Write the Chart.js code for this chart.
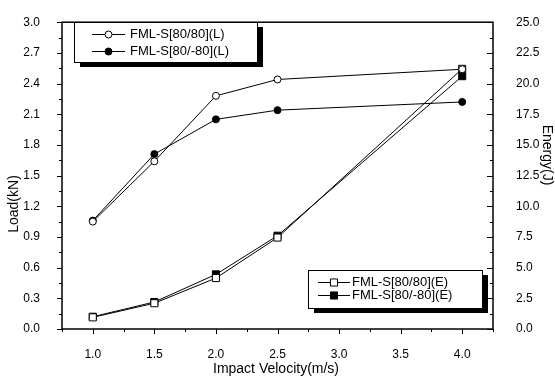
<!DOCTYPE html>
<html><head><meta charset="utf-8">
<script src="https://cdn.jsdelivr.net/npm/chart.js@4.4.1/dist/chart.umd.min.js"></script>
<style>html,body{margin:0;padding:0;background:#fff;overflow:hidden}#wrap{width:555px;height:380px;position:relative}</style>
</head><body><div id="wrap"><canvas id="c" width="555" height="380"></canvas></div>
<script>
// ---- data ----
const velocity = [1.0, 1.5, 2.0, 2.5, 4.0];
const load8080 = [1.05, 1.64, 2.28, 2.44, 2.54];
const load80m80 = [1.06, 1.71, 2.05, 2.14, 2.22];
const energy8080 = [0.95, 2.1, 4.15, 7.45, 21.2];
const energy80m80 = [1.0, 2.2, 4.45, 7.6, 20.6];
const xTickLabels = [1.0, 1.5, 2.0, 2.5, 3.0, 3.5, 4.0];
const loadTickLabels = [0.0, 0.3, 0.6, 0.9, 1.2, 1.5, 1.8, 2.1, 2.4, 2.7, 3.0];
const energyTickLabels = [0.0, 2.5, 5.0, 7.5, 10.0, 12.5, 15.0, 17.5, 20.0, 22.5, 25.0];
const seriesNames = ['FML-S[80/80](L)', 'FML-S[80/-80](L)', 'FML-S[80/80](E)', 'FML-S[80/-80](E)'];
const xTitle = 'Impact Velocity(m/s)';
const yTitle = 'Load(kN)';
const y1Title = 'Energy(J)';

const FONT = '"Liberation Sans", Arial, sans-serif';
const toPts = (ys) => velocity.map((x, i) => ({x, y: ys[i]}));

const datasets = [
  {label: seriesNames[0], data: toPts(load8080), yAxisID: 'y', pointStyle: 'circle', radius: 3.5, backgroundColor: '#fff'},
  {label: seriesNames[1], data: toPts(load80m80), yAxisID: 'y', pointStyle: 'circle', radius: 3.5, backgroundColor: '#000'},
  {label: seriesNames[2], data: toPts(energy8080), yAxisID: 'y1', pointStyle: 'rect', radius: 5, backgroundColor: '#fff'},
  {label: seriesNames[3], data: toPts(energy80m80), yAxisID: 'y1', pointStyle: 'rect', radius: 5, backgroundColor: '#000'}
].map(d => Object.assign(d, {borderColor: '#000', borderWidth: 1, pointBorderColor: '#000', pointBackgroundColor: d.backgroundColor, pointBorderWidth: 1, pointRadius: d.radius, tension: 0, fill: false}));

function ticksFrom(arr) { return s => { s.ticks = arr.map(v => ({value: v})); }; }

const decor = {
  id: 'decor',
  afterDatasetsDraw(chart) {
    const ctx = chart.ctx, a = chart.chartArea;
    const sx = chart.scales.x, sy = chart.scales.y, sy1 = chart.scales.y1;
    ctx.save();
    ctx.strokeStyle = '#000';
    ctx.lineWidth = 1.5;
    ctx.strokeRect(a.left, a.top, a.right - a.left, a.bottom - a.top);
    ctx.lineWidth = 1;
    ctx.beginPath();
    // left axis ticks (outward)
    for (let v = 0; v <= 3.0001; v += 0.15) {
      const p = Math.round(sy.getPixelForValue(v)) + 0.5;
      const major = Math.abs(v / 0.3 - Math.round(v / 0.3)) < 1e-6;
      ctx.moveTo(a.left, p); ctx.lineTo(a.left - (major ? 5 : 3), p);
    }
    // right axis ticks (inward)
    for (let v = 0; v <= 25.0001; v += 1.25) {
      const p = Math.round(sy1.getPixelForValue(v)) + 0.5;
      const major = Math.abs(v / 2.5 - Math.round(v / 2.5)) < 1e-6;
      ctx.moveTo(a.right, p); ctx.lineTo(a.right - (major ? 6 : 3), p);
    }
    // bottom ticks (outward)
    for (let v = 0.75; v <= 4.2501; v += 0.25) {
      const p = Math.round(sx.getPixelForValue(v)) + 0.5;
      const major = Math.abs(v / 0.5 - Math.round(v / 0.5)) < 1e-6;
      ctx.moveTo(p, a.bottom); ctx.lineTo(p, a.bottom + (major ? 5 : 3));
    }
    ctx.stroke();

    // axis titles
    ctx.fillStyle = '#000';
    ctx.textAlign = 'center'; ctx.textBaseline = 'middle';
    ctx.font = '14px ' + FONT;
    ctx.fillText(xTitle, 276, 369);
    ctx.save(); ctx.translate(14, 204); ctx.rotate(-Math.PI / 2); ctx.fillText(yTitle, 0, 0); ctx.restore();
    ctx.save(); ctx.translate(547, 155); ctx.rotate(Math.PI / 2); ctx.fillText(y1Title, 0, 0); ctx.restore();

    // legends with drop shadow
    function legendBox(box, rows, idx) {
      ctx.fillStyle = '#000';
      ctx.fillRect(box.x + 6, box.y + 5, box.w, box.h);
      ctx.fillStyle = '#fff';
      ctx.fillRect(box.x, box.y, box.w, box.h);
      ctx.lineWidth = 1; ctx.strokeStyle = '#000';
      ctx.strokeRect(box.x + 0.5, box.y + 0.5, box.w, box.h);
      idx.forEach((di, k) => {
        const ds = chart.data.datasets[di];
        const y = rows.y[k];
        ctx.strokeStyle = '#000'; ctx.lineWidth = 1;
        ctx.beginPath(); ctx.moveTo(rows.x0, y + 0.5); ctx.lineTo(rows.x1, y + 0.5); ctx.stroke();
        ctx.fillStyle = ds.pointBackgroundColor;
        Chart.helpers.drawPoint(ctx, {pointStyle: ds.pointStyle, radius: ds.pointRadius, borderWidth: 1}, (rows.x0 + rows.x1) / 2, y + 0.5);
        ctx.fillStyle = '#000';
        ctx.font = '13px ' + FONT; ctx.textAlign = 'left'; ctx.textBaseline = 'middle';
        ctx.fillText(ds.label, rows.tx, y);
      });
    }
    legendBox({x: 74, y: 22, w: 183, h: 40}, {x0: 92, x1: 125, tx: 130, y: [34, 51]}, [0, 1]);
    legendBox({x: 308, y: 270, w: 174, h: 38}, {x0: 318, x1: 350, tx: 352, y: [282, 295]}, [2, 3]);
    ctx.restore();
  }
};

new Chart(document.getElementById('c'), {
  type: 'line',
  data: {datasets},
  options: {
    responsive: false, animation: false, devicePixelRatio: 1,
    layout: {padding: {top: 10, left: 0, right: 0, bottom: 0}},
    plugins: {legend: {display: false}, tooltip: {enabled: false}},
    scales: {
      x: {type: 'linear', min: 0.75, max: 4.25, afterBuildTicks: ticksFrom(xTickLabels),
          afterFit: s => { s.height = 51; },
          grid: {display: false}, border: {display: false},
          ticks: {color: '#000', font: {family: FONT, size: 12}, padding: 10, maxRotation: 0, autoSkip: false, callback: v => Number(v).toFixed(1)}},
      y: {type: 'linear', position: 'left', min: 0, max: 3, afterBuildTicks: ticksFrom(loadTickLabels),
          afterFit: s => { s.width = 62; },
          grid: {display: false}, border: {display: false},
          ticks: {color: '#000', font: {family: FONT, size: 12}, padding: 14, autoSkip: false, callback: v => Number(v).toFixed(1)}},
      y1: {type: 'linear', position: 'right', min: 0, max: 25, afterBuildTicks: ticksFrom(energyTickLabels),
          afterFit: s => { s.width = 62; },
          grid: {display: false}, border: {display: false},
          ticks: {color: '#000', font: {family: FONT, size: 12}, padding: 15, autoSkip: false, callback: v => Number(v).toFixed(1)}}
    }
  },
  plugins: [decor]
});
</script></body></html>
